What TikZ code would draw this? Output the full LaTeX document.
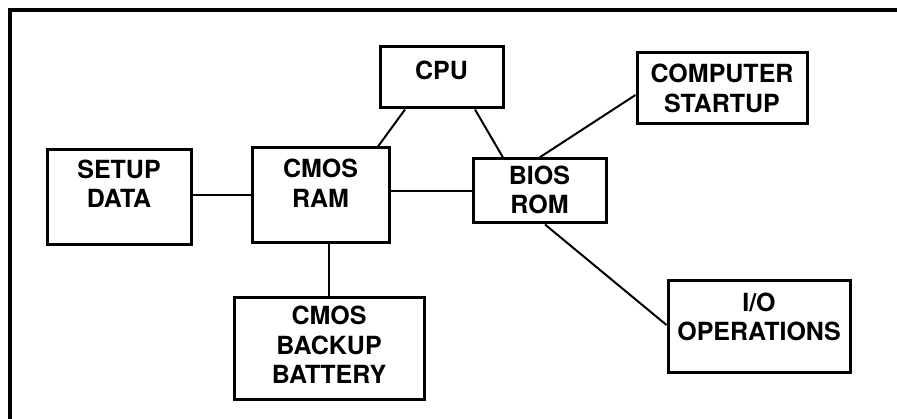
\documentclass[tikz,border=0pt]{standalone}
\usepackage{fontspec}
\setmainfont{TeX Gyre Heros}
\begin{document}
\begin{tikzpicture}[x=1pt, y=-1pt,
  bloc/.style={draw, line width=3pt, align=center, inner sep=0pt,
    font=\bfseries\fontsize{25}{29.5}\selectfont},
  liaison/.style={line width=2pt}]
  \useasboundingbox (0,0) rectangle (897,419);
  % Cadre
  \draw[line width=4pt] (10,419) -- (10,10) -- (897,10);
  % Blocs
  \node[bloc, minimum width=123, minimum height=61, text depth=15] (cpu) at (441.5,77.5) {CPU};
  \node[bloc, minimum width=144, minimum height=95, text depth=28] (setup) at (119,197.5) {SETUP\\DATA};
  \node[bloc, minimum width=137, minimum height=95, text depth=25] (cmos) at (320.5,195.5) {CMOS\\RAM};
  \node[bloc, minimum width=133, minimum height=64, text depth=3] (bios) at (539.5,191) {BIOS\\ROM};
  \node[bloc, minimum width=170, minimum height=71] (startup) at (722,88.5) {COMPUTER\\STARTUP};
  \node[bloc, minimum width=190, minimum height=102, text depth=8] (battery) at (329,349) {CMOS\\BACKUP\\BATTERY};
  \node[bloc, minimum width=182, minimum height=92, text depth=21] (io) at (759,327) {I/O\\OPERATIONS};
  % Liaisons
  \draw[liaison] (setup.east |- cmos.west) -- (cmos.west);
  \draw[liaison] (cmos.east |- bios.west) -- (bios.west);
  \draw[liaison] ([xshift=-36.5pt]cpu.south) -- ([xshift=57.5pt]cmos.north);
  \draw[liaison] ([xshift=33.5pt]cpu.south) -- ([xshift=-36.5pt]bios.north);
  \draw[liaison] (bios.north) -- ([yshift=-6.5pt]startup.west);
  \draw[liaison] (cmos.south -| battery.north) -- (battery.north);
  \draw[liaison] ([xshift=5.5pt]bios.south) -- ([yshift=2pt]io.west);
\end{tikzpicture}
\end{document}
